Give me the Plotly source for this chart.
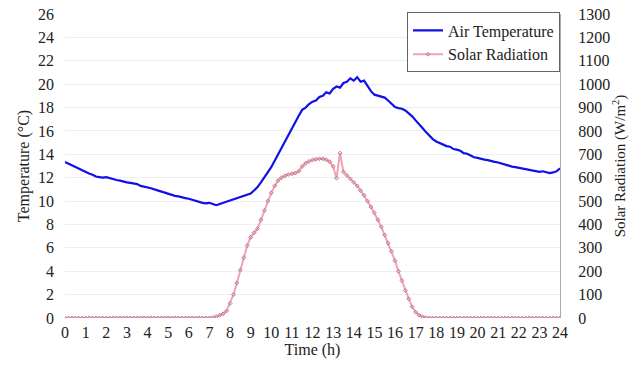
import plotly.graph_objects as go

# Time of day in hours, 10-minute steps from 0 to 24 h
time_h = [i / 6 for i in range(145)]

# Air temperature (°C) at 10-minute steps
air_temp = [
    13.35, 13.2, 13.05, 12.9, 12.75, 12.6, 12.5, 12.35, 12.25, 12.1, 12.05, 12.0,
    12.05, 11.95, 11.9, 11.8, 11.75, 11.65, 11.6, 11.55, 11.5, 11.45, 11.3, 11.25,
    11.15, 11.1, 11.0, 10.9, 10.85, 10.7, 10.6, 10.5, 10.45, 10.4, 10.3, 10.25,
    10.2, 10.1, 10.05, 9.95, 9.85, 9.8, 9.85, 9.75, 9.65, 9.75, 9.85, 9.9,
    10.0, 10.1, 10.2, 10.3, 10.4, 10.5, 10.65, 10.9, 11.2, 11.6, 12.0, 12.45,
    12.9, 13.45, 14.0, 14.6, 15.15, 15.7, 16.3, 16.8, 17.3, 17.8, 18.0, 18.3,
    18.5, 18.6, 18.9, 19.0, 19.3, 19.2, 19.6, 19.8, 19.7, 20.1, 20.2, 20.5,
    20.3, 20.6, 20.2, 20.3, 19.8, 19.4, 19.1, 19.0, 18.95, 18.85, 18.6, 18.3,
    18.05, 17.95, 17.9, 17.75, 17.5, 17.25, 16.9, 16.6, 16.25, 15.9, 15.55, 15.3,
    15.1, 14.95, 14.8, 14.7, 14.65, 14.45, 14.4, 14.3, 14.1, 14.05, 13.9, 13.75,
    13.7, 13.6, 13.55, 13.5, 13.4, 13.35, 13.3, 13.2, 13.1, 13.05, 12.95, 12.9,
    12.85, 12.8, 12.7, 12.65, 12.6, 12.55, 12.5, 12.55, 12.45, 12.4, 12.45, 12.55,
    12.8,
]

# Solar radiation (W/m²) at 10-minute steps
night_before = [0] * 43
daylight = [
    2, 6, 12, 18, 30, 62, 100, 150, 205, 258, 310, 345,
    365, 382, 420, 460, 500, 535, 565, 588, 600, 608, 614, 617,
    620, 628, 648, 662, 670, 676, 679, 681, 681, 677, 668, 648,
    598, 705, 625, 610, 595, 580, 565, 545, 525, 500, 475, 450,
    420, 390, 355, 320, 285, 245, 200, 160, 118, 82, 48, 25,
    12, 5, 2, 0,
]
night_after = [0] * 38
solar_rad = night_before + daylight + night_after

x_ticks = list(range(0, 25))
temp_ticks = list(range(0, 27, 2))
rad_ticks = list(range(0, 1301, 100))

SERIF = "Liberation Serif"
text_font = dict(family=SERIF, size=16, color="#222")

fig = go.Figure()
fig.add_trace(go.Scatter(
    x=time_h, y=air_temp, name="Air Temperature", mode="lines",
    line=dict(color="#1010e8", width=2.2), yaxis="y",
))
fig.add_trace(go.Scatter(
    x=time_h, y=solar_rad, name="Solar Radiation", mode="lines+markers",
    line=dict(color="#f0a3b3", width=2),
    marker=dict(symbol="diamond-open", size=3, color="#c07a88", line=dict(width=1)),
    yaxis="y2",
))

fig.update_layout(
    template="none",
    width=636, height=366,
    margin=dict(l=65, r=76, t=14, b=48),
    paper_bgcolor="white", plot_bgcolor="white",
    font=text_font,
    showlegend=True,
    legend=dict(
        x=1, xanchor="right", y=1.005, yanchor="top",
        bgcolor="white", bordercolor="#666", borderwidth=1,
        font=text_font, itemwidth=30, tracegroupgap=0,
    ),
    xaxis=dict(
        range=[0, 24], tickvals=x_ticks, ticktext=[str(v) for v in x_ticks],
        tickfont=text_font, ticks="", showgrid=False, zeroline=False, showline=False,
        ticklabelstandoff=3,
        title=dict(text="Time (h)", standoff=3, font=text_font),
    ),
    yaxis=dict(
        range=[0, 26], tickvals=temp_ticks, ticktext=[str(v) for v in temp_ticks],
        tickfont=text_font, ticks="",
        showgrid=True, gridcolor="#efefef", gridwidth=1,
        zeroline=False, showline=False, ticklabelstandoff=10,
        title=dict(text="Temperature (°C)", standoff=4, font=text_font),
    ),
    yaxis2=dict(
        range=[0, 1300], tickvals=rad_ticks, ticktext=[str(v) for v in rad_ticks],
        tickfont=text_font, ticks="",
        overlaying="y", side="right", showgrid=False, zeroline=False,
        showline=True, linecolor="#aaaaaa", linewidth=1,
        ticklabelstandoff=14,
        title=dict(text="Solar Radiation (W/m<sup>2</sup>)", standoff=5,
                   font=dict(family=SERIF, size=15, color="#222")),
    ),
)

fig.write_html("out.html")
